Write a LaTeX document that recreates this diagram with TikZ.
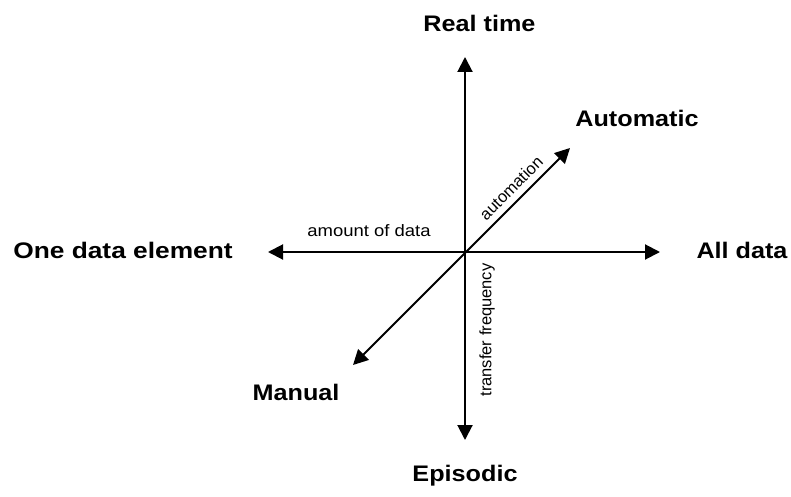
\documentclass[tikz,border=0pt]{standalone}
\usepackage{fontspec}
\setmainfont{Liberation Sans}
\usetikzlibrary{arrows.meta}
\newcommand{\wtxt}[1]{\scalebox{1.12}[1]{#1}}
\tikzset{
  axis/.style={line width=2pt,{Triangle[length=15pt,width=15pt]}-{Triangle[length=15pt,width=15pt]}},
  biglabel/.style={inner sep=0pt,font=\fontsize{22.5}{26}\selectfont\bfseries},
  smalllabel/.style={inner sep=0pt,font=\fontsize{16.5}{19}\selectfont},
}
\begin{document}
\begin{tikzpicture}[x=1pt,y=-1pt]
\useasboundingbox (0,0) rectangle (791,497);
\coordinate (O) at (465,252);
\coordinate (T) at (465,57);
\coordinate (B) at (465,440);
\coordinate (L) at (268,252);
\coordinate (R) at (660,252);
\coordinate (NE) at (570,148);
\coordinate (SW) at (353,365);
\draw[axis] (B) -- (T);
\draw[axis] (L) -- (R);
\draw[axis] (SW) -- (NE);
\node[biglabel] (rt) at (479.5,23) {\wtxt{Real time}};
\node[biglabel] (ep) at (465,476) {\wtxt{Episodic}};
\node[biglabel] (one) at (123,250.5) {\scalebox{1.17}[1]{One data element}};
\node[biglabel] (all) at (742,250.5) {\wtxt{All data}};
\node[biglabel] (auto) at (637,118) {\wtxt{Automatic}};
\node[biglabel] (man) at (296,392) {\wtxt{Manual}};
\node[smalllabel] (amt) at (369,231) {\wtxt{amount of data}};
\node[smalllabel,rotate=90] (tf) at (487,330) {transfer frequency};
\node[smalllabel,rotate=45] (am) at (511,188) {automation};
\end{tikzpicture}
\end{document}
